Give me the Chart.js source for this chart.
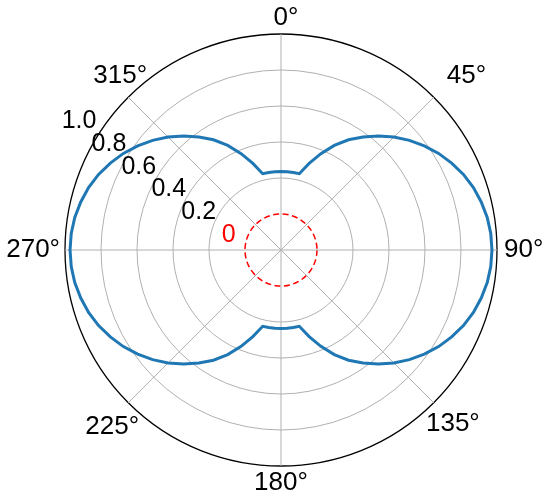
<!DOCTYPE html>
<html>
<head>
<meta charset="utf-8">
<script src="https://cdn.jsdelivr.net/npm/chart.js@4.4.0/dist/chart.umd.min.js"></script>
<style>
  html, body { margin: 0; padding: 0; background: #fff; }
  #wrap { width: 550px; height: 499px; position: relative; }
</style>
</head>
<body>
<div id="wrap"><canvas id="polarChart"></canvas></div>
<script>
// one category every 4.5 degrees, clockwise from the top
const thetaDeg = Array.from({ length: 80 }, (_, i) => i * 4.5);

// radius of the blue curve at each angle
const gain = [
  0.236, 0.236, 0.236, 0.236, 0.306, 0.379, 0.452, 0.518, 0.576, 0.633,
  0.687, 0.738, 0.784, 0.827, 0.864, 0.897, 0.924, 0.944, 0.960, 0.969,
  0.972,
  0.969, 0.960, 0.944, 0.924, 0.897, 0.864, 0.827, 0.784, 0.738, 0.687,
  0.633, 0.576, 0.518, 0.452, 0.379, 0.306, 0.236, 0.236, 0.236,
  0.236,
  0.236, 0.236, 0.236, 0.306, 0.379, 0.452, 0.518, 0.576, 0.633, 0.687,
  0.738, 0.784, 0.827, 0.864, 0.897, 0.924, 0.944, 0.960, 0.969,
  0.972,
  0.969, 0.960, 0.944, 0.924, 0.897, 0.864, 0.827, 0.784, 0.738, 0.687,
  0.633, 0.576, 0.518, 0.452, 0.379, 0.306, 0.236, 0.236, 0.236
];

const angleTickLabels = ['0°', '45°', '90°', '135°', '180°', '225°', '270°', '315°'];
const angleTickStep = 10; // categories between two labelled angles
const rTicks = [0, 0.2, 0.4, 0.6, 0.8, 1.0];
const rTickLabels = ['0', '0.2', '0.4', '0.6', '0.8', '1.0'];
const rTickColors = ['red', 'black', 'black', 'black', 'black', 'black'];
const rMin = -0.2;
const rMax = 1.0;

const FONT = '26px "Liberation Sans", Arial, sans-serif';
// small pixel shifts so the rim labels sit where the original put them
const rimNudge = [[5, 0], [17, -6], [0, 0], [0, 2], [0, 1], [3, 5], [2, 0], [11, -2]];

const isValue = (c, v) => c.tick && Math.abs(c.tick.value - v) < 1e-9;

// draws the angle labels round the rim and the radial tick labels
const polarLabels = {
  id: 'polarLabels',
  afterDraw(chart) {
    const r = chart.scales.r;
    const ctx = chart.ctx;
    ctx.save();
    ctx.font = FONT;
    ctx.textAlign = 'center';
    ctx.textBaseline = 'middle';
    ctx.fillStyle = '#000';

    const outer = r.getDistanceFromCenterForValue(rMax);
    angleTickLabels.forEach((txt, k) => {
      const idx = k * angleTickStep;
      const a = thetaDeg[idx] * Math.PI / 180;
      const halfW = ctx.measureText(txt).width / 2;
      const halfH = 9;
      const reach = Math.hypot(halfW * Math.sin(a), halfH * Math.cos(a));
      const p = r.getPointPosition(idx, outer + 7 + reach);
      ctx.fillText(txt, p.x + rimNudge[k][0], p.y + rimNudge[k][1]);
    });

    ctx.font = '25px "Liberation Sans", Arial, sans-serif';
    rTicks.forEach((v, k) => {
      const d = r.getDistanceFromCenterForValue(v);
      const x = r.xCenter - 0.831 * d - 22.5;
      const y = r.yCenter - 0.631 * d + 7.7;
      ctx.fillStyle = rTickColors[k];
      ctx.fillText(rTickLabels[k], x, y);
    });
    ctx.restore();
  }
};

new Chart(document.getElementById('polarChart'), {
  type: 'radar',
  data: {
    labels: thetaDeg,
    datasets: [{
      data: gain,
      borderColor: '#1f77b4',
      borderWidth: 3,
      pointRadius: 0,
      pointHoverRadius: 0,
      fill: false,
      tension: 0
    }]
  },
  options: {
    responsive: true,
    maintainAspectRatio: false,
    animation: false,
    layout: { padding: { left: 65, right: 53, top: 34, bottom: 33 } },
    plugins: {
      legend: { display: false },
      tooltip: { enabled: false }
    },
    elements: { line: { borderJoinStyle: 'miter' } },
    scales: {
      r: {
        min: rMin,
        max: rMax,
        startAngle: 0,
        ticks: { display: false, stepSize: 0.2 },
        pointLabels: { display: false },
        grid: {
          circular: true,
          color: c => isValue(c, rMax) ? '#000' : (isValue(c, 0) ? '#ff0000' : '#b0b0b0'),
          lineWidth: c => isValue(c, rMax) ? 1.3 : (isValue(c, 0) ? 1.5 : 1)
        },
        border: {
          dash: c => isValue(c, 0) ? [6, 3.5] : []
        },
        angleLines: {
          color: '#b0b0b0',
          lineWidth: c => c.index % angleTickStep === 0 ? 1 : 0
        }
      }
    }
  },
  plugins: [polarLabels]
});
</script>
</body>
</html>
